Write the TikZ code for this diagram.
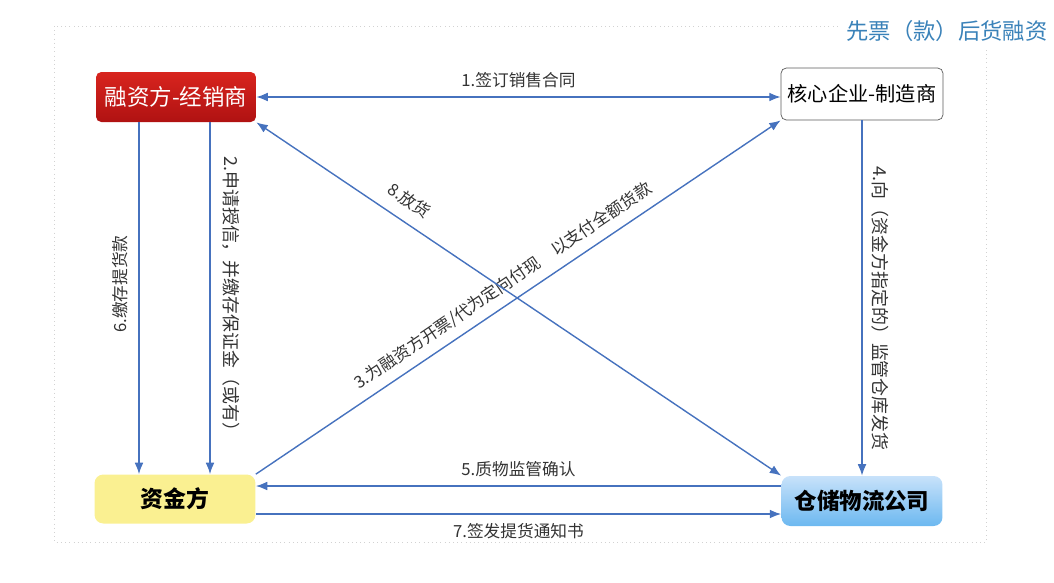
\documentclass[tikz,border=0pt]{standalone}
\usepackage{fontspec}
\setmainfont{Noto Sans CJK SC}
\usetikzlibrary{arrows.meta}
\definecolor{flow}{RGB}{70,114,190}
\definecolor{titleblue}{RGB}{58,130,185}
\definecolor{boxline}{RGB}{90,90,90}
\definecolor{fundyellow}{RGB}{250,240,145}
\begin{document}
\begin{tikzpicture}[x=0.02cm,y=-0.02cm,>={Latex[length=6.5pt,width=5pt]},
  party/.style={rounded corners=3pt,minimum height=1cm,inner sep=0pt},
  flowline/.style={flow,line width=0.8pt},
  lbl/.style={font=\fontsize{9.5}{11}\selectfont,text=black!80,inner sep=2pt},
  vlbl/.style={lbl,font=\fontsize{10.2}{12}\selectfont}]
  \useasboundingbox (0,0) rectangle (1054,582);
  \draw[gray!35,dotted] (54,26) rectangle (986,542);
  \node[fill=white,text=titleblue,font=\fontsize{12.7}{15}\selectfont,inner sep=3pt]
    (title) at (947,31) {先票（款）后货融资};
  \node[party,top color={rgb,255:red,216;green,36;blue,30},bottom color={rgb,255:red,176;green,18;blue,18},
    text=white,minimum width=3.2cm,font=\fontsize{12.8}{15}\selectfont] (fin) at (176,97) {融资方-经销商};
  \node[party,draw=boxline,fill=white,minimum width=3.24cm,minimum height=1.04cm,
    font=\fontsize{11.5}{14}\selectfont] (core) at (862,94) {核心企业-制造商};
  \node[party,fill=fundyellow,rounded corners=5pt,minimum width=3.22cm,minimum height=0.98cm,
    font=\bfseries\fontsize{13}{15}\selectfont] (fund) at (175,499) {资金方};
  \node[party,top color={rgb,255:red,200;green,226;blue,250},bottom color={rgb,255:red,108;green,184;blue,240},
    rounded corners=5pt,minimum width=3.22cm,font=\bfseries\fontsize{12.8}{15}\selectfont] (ware) at (862,501) {仓储物流公司};
  \coordinate (x6) at (139,0);
  \coordinate (x2) at (210,0);
  \coordinate (y5) at (0,486);
  \coordinate (y7) at (0,514);
  \draw[flowline,<->] (fin.east) -- node[lbl,midway,above=3pt]{1.签订销售合同} (fin.east -| core.west);
  \draw[flowline,->] (fin.south -| x2) -- node[vlbl,pos=0.5,sloped,above=5pt]{2.申请授信，并缴存保证金（或有）} (fund.north -| x2);
  \draw[flowline,<-] (fund.north -| x6) -- node[lbl,pos=0.54,sloped,above=4pt]{6.缴存提货款} (fin.south -| x6);
  \draw[flowline,->] (fund.north east) -- node[lbl,pos=0.49,sloped,above=3pt]{3.为融资方开票/代为定向付现　以支付全额货款} (core.south west);
  \draw[flowline,<->] (fin.south east) -- node[lbl,pos=0.27,sloped,above=5pt]{8.放货} (ware.north west);
  \draw[flowline,->] (core.south) -- node[vlbl,pos=0.53,sloped,above=3pt]{4.向（资金方指定的）监管仓库发货} (ware.north);
  \draw[flowline,->] (ware.west |- y5) -- node[lbl,midway,above=3pt]{5.质物监管确认} (fund.east |- y5);
  \draw[flowline,->] (fund.east |- y7) -- node[lbl,midway,below=3pt]{7.签发提货通知书} (ware.west |- y7);
\end{tikzpicture}
\end{document}
